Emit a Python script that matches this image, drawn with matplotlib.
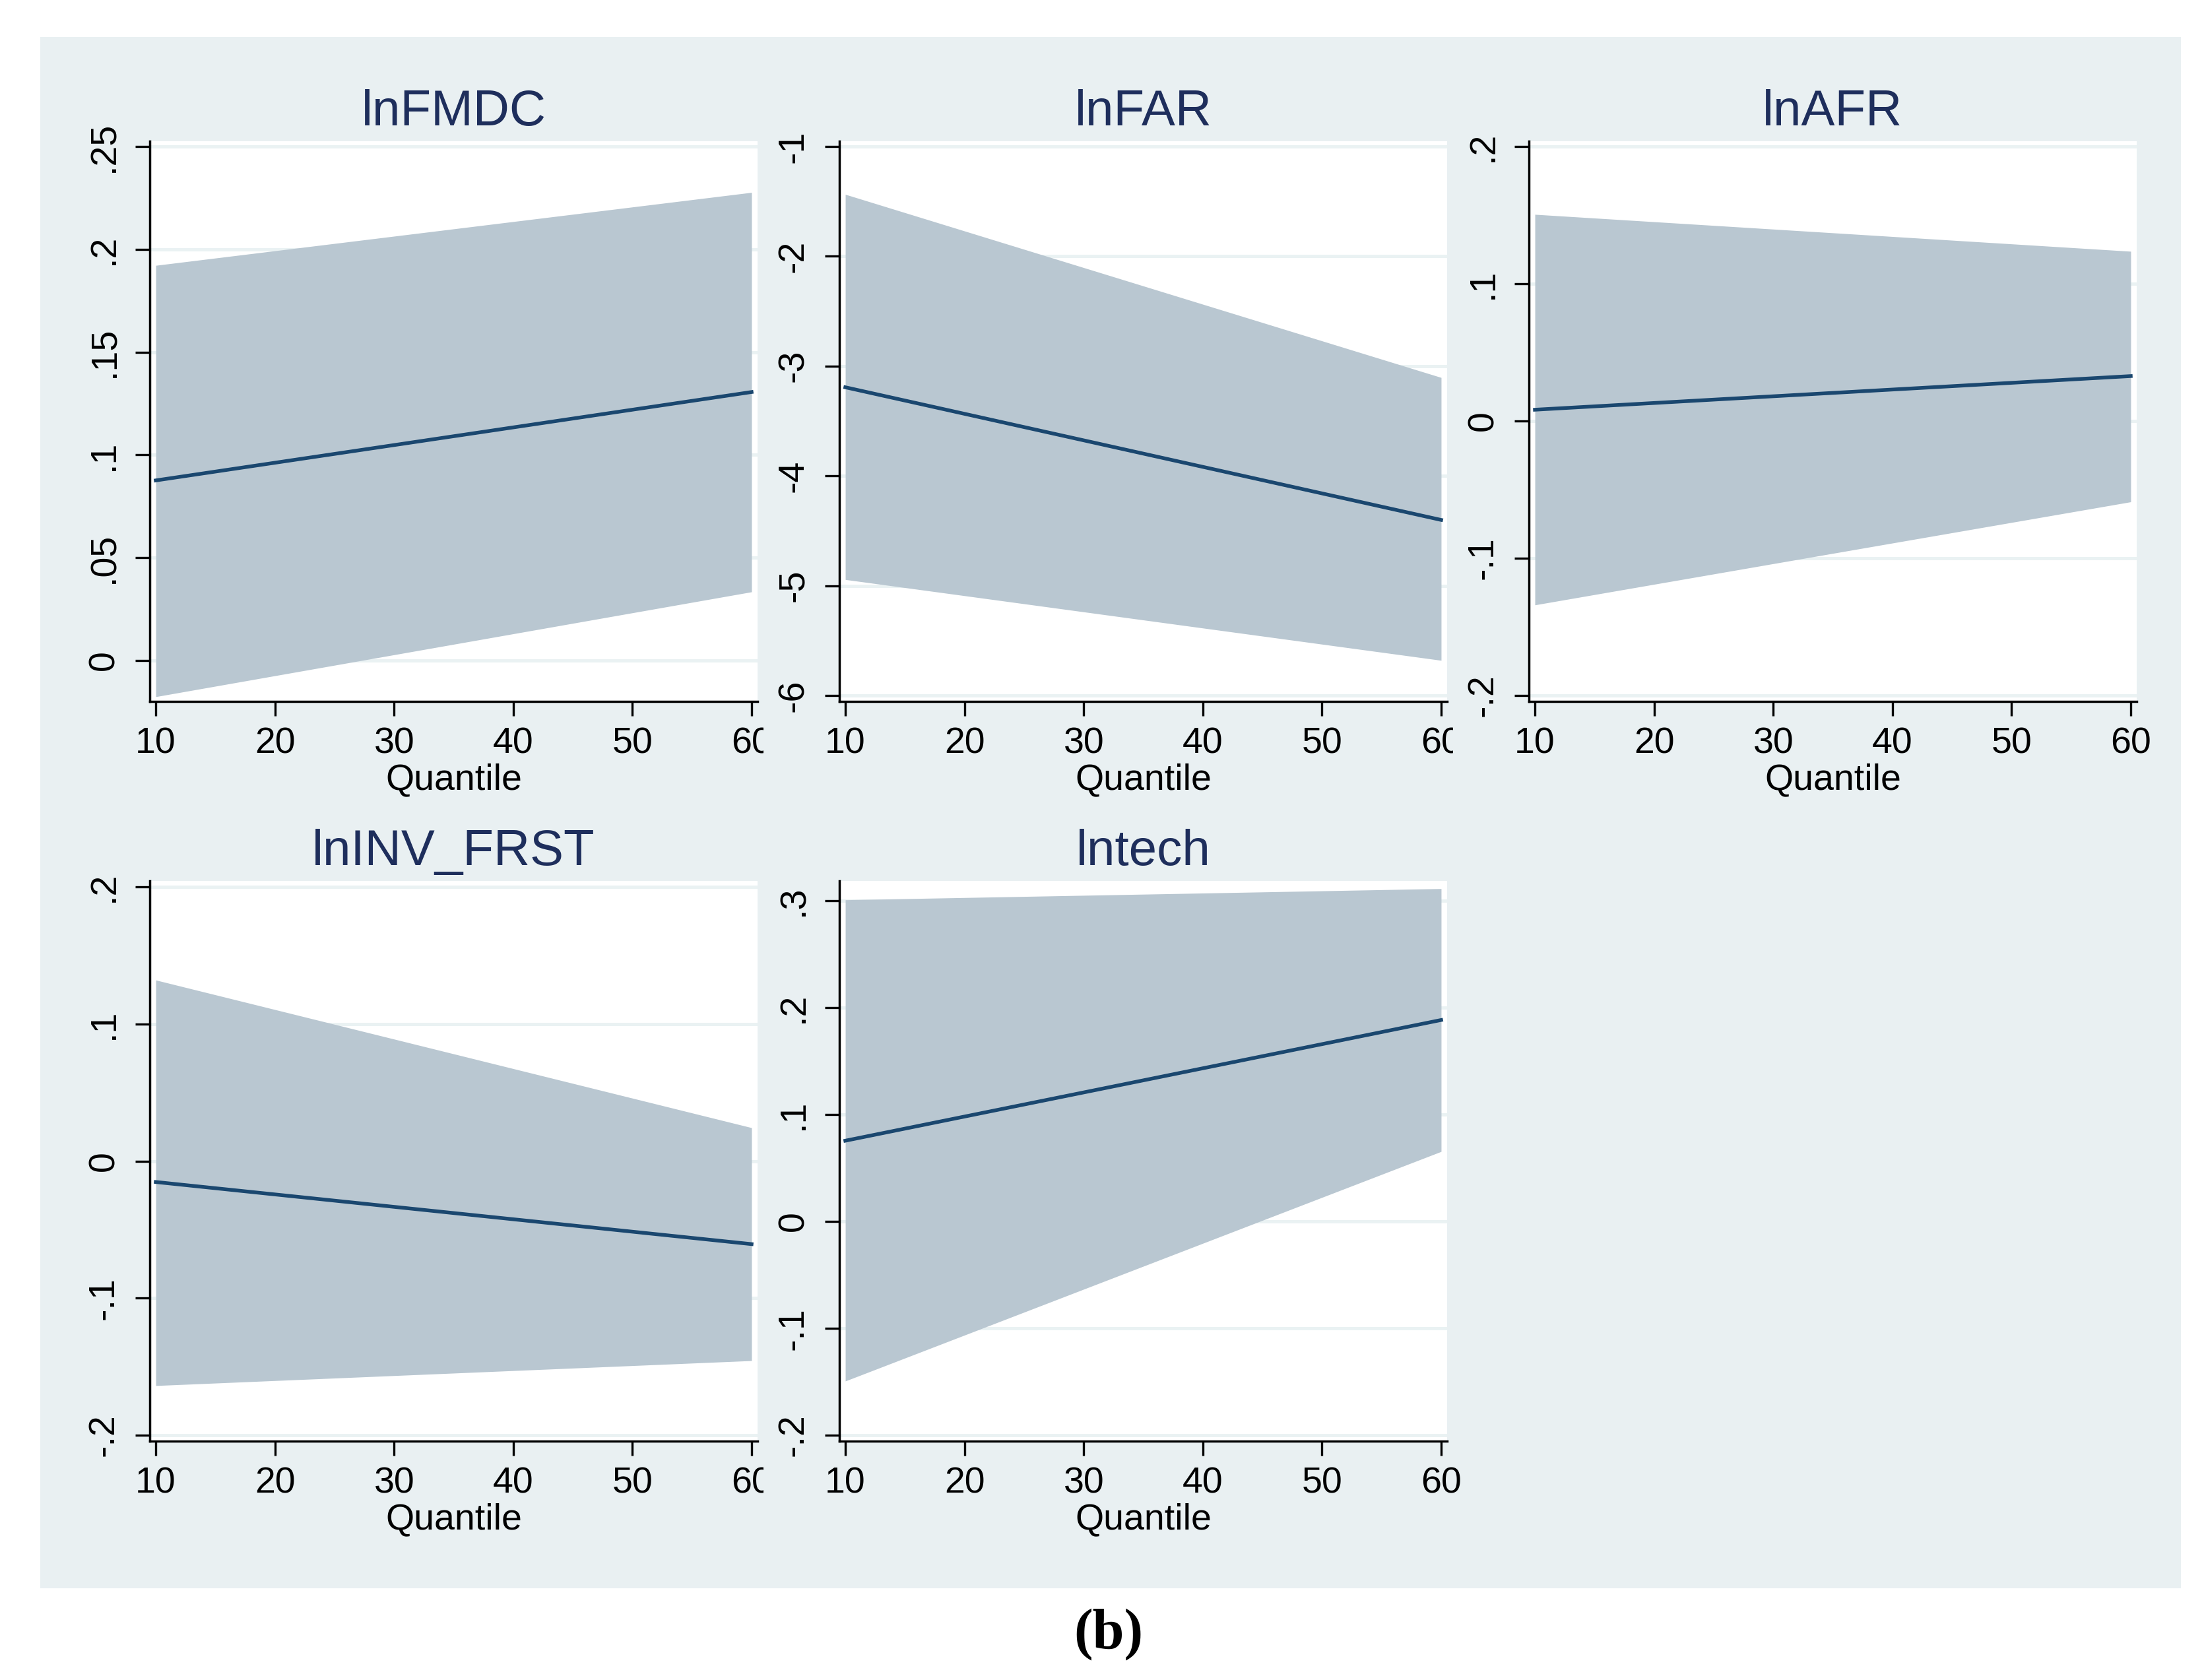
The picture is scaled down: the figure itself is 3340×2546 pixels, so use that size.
import matplotlib
matplotlib.use("Agg")
import matplotlib.pyplot as plt
from matplotlib.patches import Rectangle
from matplotlib.transforms import Bbox, TransformedBbox

plt.rcParams['font.family'] = ['Liberation Sans', 'DejaVu Sans']

# quantile process estimates (coef + 95% band)
quantiles = [10, 60]
titles = ["lnFMDC", "lnFAR", "lnAFR", "lnINV_FRST", "lntech"]

coef_fmdc = [0.0876, 0.1306]
upper_fmdc = [0.1922, 0.2277]
lower_fmdc = [-0.0176, 0.0334]

coef_far = [-3.193, -4.401]
upper_far = [-1.436, -3.104]
lower_far = [-4.944, -5.680]

coef_afr = [0.0082, 0.0327]
upper_afr = [0.1505, 0.1236]
lower_afr = [-0.1340, -0.0589]

coef_inv = [-0.0153, -0.0606]
upper_inv = [0.1320, 0.0243]
lower_inv = [-0.1638, -0.1456]

coef_tech = [0.0755, 0.1884]
upper_tech = [0.3008, 0.3113]
lower_tech = [-0.1493, 0.0654]

x_ticks = [10, 20, 30, 40, 50, 60]
y_ticks = [
    [0, 0.05, 0.1, 0.15, 0.2, 0.25],
    [-6, -5, -4, -3, -2, -1],
    [-0.2, -0.1, 0, 0.1, 0.2],
    [-0.2, -0.1, 0, 0.1, 0.2],
    [-0.2, -0.1, 0, 0.1, 0.2, 0.3],
]
y_labels = [
    ['0', '.05', '.1', '.15', '.2', '.25'],
    ['-6', '-5', '-4', '-3', '-2', '-1'],
    ['-.2', '-.1', '0', '.1', '.2'],
    ['-.2', '-.1', '0', '.1', '.2'],
    ['-.2', '-.1', '0', '.1', '.2', '.3'],
]
y_lims = [(-0.0199, 0.2526), (-6.054, -0.952), (-0.2043, 0.2038),
          (-0.2043, 0.2043), (-0.2055, 0.3185)]

coefs = [coef_fmdc, coef_far, coef_afr, coef_inv, coef_tech]
uppers = [upper_fmdc, upper_far, upper_afr, upper_inv, upper_tech]
lowers = [lower_fmdc, lower_far, lower_afr, lower_inv, lower_tech]

bg = '#e9f0f2'
band = '#b9c7d1'
navy = '#1a476f'
title_col = '#1e2e5c'
grid_col = '#eaf2f3'

W, H = 3341, 2546
fig = plt.figure(figsize=(W / 100, H / 100), dpi=100)
fig.patch.set_facecolor('white')
fig.add_artist(Rectangle((61 / W, 1 - 2407 / H), (3305 - 61) / W, (2407 - 56) / H,
                         transform=fig.transFigure, facecolor=bg,
                         edgecolor='none', zorder=0))

for i in range(5):
    row, col = divmod(i, 3)
    left = 227 + col * 1045
    top = 214 + row * 1121
    ax = fig.add_axes([left / W, 1 - (top + 849) / H, 921 / W, 849 / H])
    ax.set_facecolor('white')
    ax.fill_between(quantiles, lowers[i], uppers[i], color=band, lw=0, zorder=2)
    ax.plot(quantiles, coefs[i], color=navy, lw=4, zorder=3)
    ax.set_xlim(9.5, 60.5)
    ax.set_ylim(*y_lims[i])
    ax.set_xticks(x_ticks)
    ax.set_yticks(y_ticks[i])
    ax.set_yticklabels(y_labels[i], rotation=90, va='center', ha='right')
    ax.tick_params(axis='both', length=16, width=2.4, labelsize=40, color='black')
    ax.tick_params(axis='y', pad=15)
    ax.tick_params(axis='x', pad=12)
    for s in ['top', 'right']:
        ax.spines[s].set_visible(False)
    for s in ['left', 'bottom']:
        ax.spines[s].set_linewidth(2.5)
    ax.grid(axis='y', color=grid_col, lw=3.6)
    ax.set_axisbelow(True)
    ax.set_title(titles[i], fontsize=55, color=title_col, pad=17)
    ax.set_xlabel("Quantile", fontsize=40, labelpad=2)

    # neighbouring panel cuts off the last tick label, as in the original
    if i in (0, 1, 3):
        clip_right = 1157 + col * 1045
        cb = TransformedBbox(Bbox.from_extents(0, 0, clip_right / W, 1), fig.transFigure)
        for lab in ax.get_xticklabels():
            lab.set_clip_box(cb)
            lab.set_clip_on(True)

fig.text(1680 / W, 1 - 2477 / H, "(b)", ha='center', va='center', fontsize=62,
         fontweight='bold', family='Liberation Serif')

fig.savefig("out.png", dpi=100)
